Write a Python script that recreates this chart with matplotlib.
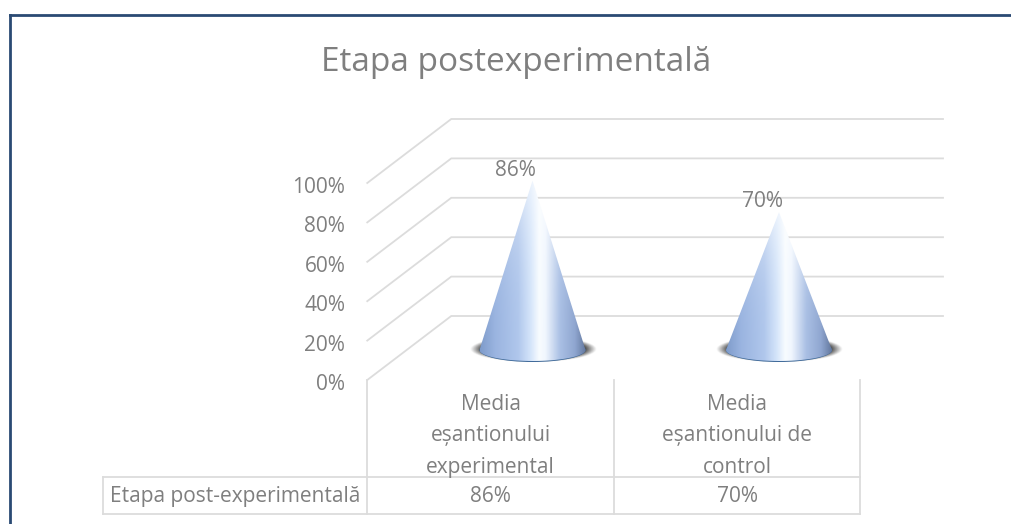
import numpy as np
from matplotlib import pyplot as plt
from matplotlib.colors import LinearSegmentedColormap
from matplotlib.patches import Ellipse, Polygon

title = "Etapa postexperimentală"
series_name = "Etapa post-experimentală"
categories = ["Media\neșantionului\nexperimental", "Media\neșantionului de\ncontrol"]
values = [86, 70]
ticks = [0, 20, 40, 60, 80, 100]

W, H = 1011, 524
text_col = "#7f7f7f"
grid_col = "#dcdcdc"
frame_col = "#2a4a73"

# y data is percent on the front plane, x data is category number
PX_PER_PCT = 1.97
PX_PER_CAT = 246.5
X0_PX, Y0_PX = 490.5, 380


def ux(px):
    return px / PX_PER_CAT


def uy(px):
    return px / PX_PER_PCT


fig = plt.figure(figsize=(W / 100, H / 100), dpi=100)
ax = fig.add_axes([0, 0, 1, 1])
xlim = (ux(-X0_PX), ux(W - X0_PX))
ylim = (uy(Y0_PX - H), uy(Y0_PX))
plt.rcParams["font.family"] = ["Open Sans", "DejaVu Sans"]

depth_x, depth_y = ux(84), uy(64)
left = -0.5
right_back = ux(943 - X0_PX)
fs = 15

# walls
for t in ticks:
    ax.plot([left, left + depth_x, right_back], [t, t + depth_y, t + depth_y],
            color=grid_col, lw=1.3, zorder=1)
    ax.text(left - ux(22), t + uy(-2), "%d%%" % t, ha="right", va="center_baseline", fontsize=fs, color=text_col)

# table lines
row_top = uy(Y0_PX - 476.5)
row_bot = uy(Y0_PX - 514)
n = len(categories)
for i in range(n + 1):
    ax.plot([left + i, left + i], [0, row_bot], color=grid_col, lw=1.3, zorder=1)
head_left = left - ux(264)
ax.plot([head_left, left + n], [row_top, row_top], color=grid_col, lw=1.3, zorder=1)
ax.plot([head_left, left + n], [row_bot, row_bot], color=grid_col, lw=1.3, zorder=1)
ax.plot([head_left, head_left], [row_top, row_bot], color=grid_col, lw=1.3, zorder=1)

row_mid = (row_top + row_bot) / 2 + uy(1)
ax.text(left - ux(7), row_mid, series_name, ha="right", va="center_baseline", fontsize=fs, color=text_col)
for i, (c, v) in enumerate(zip(categories, values)):
    ax.text(i, uy(Y0_PX - 436), c, ha="center", va="center", fontsize=fs, color=text_col,
            linespacing=1.65)
    ax.text(i, row_mid, "%d%%" % v, ha="center", va="center_baseline", fontsize=fs, color=text_col)

# cones
cone_cols = ["#7f9ccb", "#9ab4e0", "#b0c7ec", "#d5e5fa", "#f8fcff", "#f0f6fe", "#a9bfe4", "#8fa6d0", "#64799f"]
cone_pos = [0, 0.14, 0.36, 0.48, 0.56, 0.62, 0.76, 0.9, 1]
cone_cmap = LinearSegmentedColormap.from_list("cone", list(zip(cone_pos, cone_cols)))
half_w = ux(53)
half_h = uy(11)

# gradient with paler tip
gx = np.linspace(0, 1, 200)
gy = np.linspace(0, 1, 200)
rgb = cone_cmap(gx)[None, :, :3].repeat(200, axis=0)
pale = (1 - gy)[:, None, None] ** 3 * 0.55
cone_img = rgb + (1 - rgb) * pale

# soft shadow
sx, sy = np.meshgrid(np.linspace(-1, 1, 200), np.linspace(-1, 1, 100))
shadow = np.zeros((100, 200, 4))
shadow[..., :3] = 0.27
shadow[..., 3] = np.clip((1 - (sx ** 2 + sy ** 2)) * 3.2, 0, 1) ** 1.1 * 0.9

for i, v in enumerate(values):
    cx = i + depth_x / 2
    base = uy(30)
    tip = base + v

    ax.imshow(shadow, extent=[cx - half_w - ux(10), cx + half_w + ux(11), base - half_h * 1.1, base + half_h * 1.25],
              aspect="auto", zorder=2, interpolation="bilinear")

    # base disc, its lower rim stays visible under the gradient
    ax.add_patch(Ellipse((cx, base), 2 * half_w, 2 * half_h + uy(2), fc="#3f6a9a", ec="none", zorder=3))

    t = np.linspace(np.pi, 2 * np.pi, 60)
    arc = np.column_stack([cx + half_w * np.cos(t), base + half_h * np.sin(t)])
    outline = np.vstack([[cx, tip], arc[::-1]])
    im = ax.imshow(cone_img, extent=[cx - half_w, cx + half_w, base - half_h, tip],
                   aspect="auto", zorder=4, interpolation="bilinear")
    clip = Polygon(outline, closed=True, transform=ax.transData, fc="none", ec="none")
    ax.add_patch(clip)
    im.set_clip_path(clip)

    ax.text(cx - ux(17), tip, "%d%%" % v, ha="center", va="bottom", fontsize=fs, color=text_col, zorder=5)

ax.text(ux(516.5 - X0_PX), uy(Y0_PX - 63), title, ha="center", va="center", fontsize=24, color=text_col)

# outer frame, only top and left are in the picture
ax.plot([ux(9.5 - X0_PX), xlim[1]], [uy(Y0_PX - 15), uy(Y0_PX - 15)], color=frame_col, lw=2, zorder=6)
ax.plot([ux(9.5 - X0_PX), ux(9.5 - X0_PX)], [uy(Y0_PX - 15), ylim[0]], color=frame_col, lw=2, zorder=6)

ax.set_xlim(xlim)
ax.set_ylim(ylim)
ax.axis("off")

fig.savefig("out.png", dpi=100)
